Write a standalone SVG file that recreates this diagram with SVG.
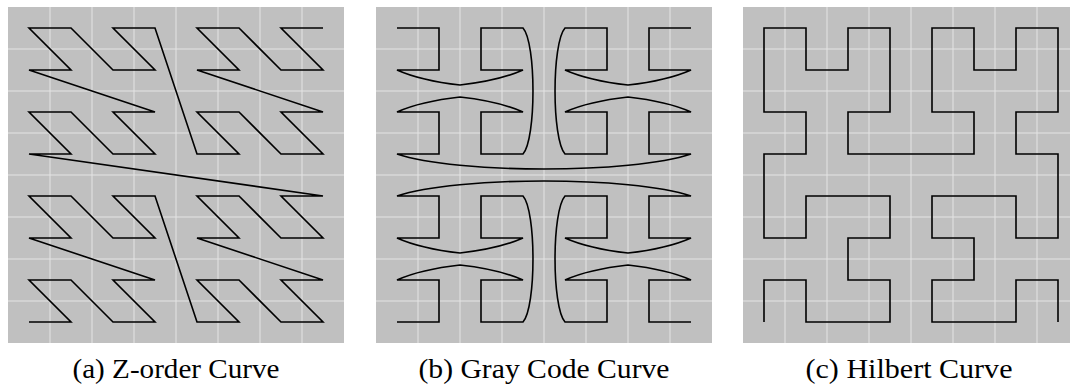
<svg xmlns="http://www.w3.org/2000/svg" width="1070" height="388" viewBox="0 0 1070 388">
<style>
.bg{fill:#c0c0c0}
.grid{stroke:#e4e4e4;stroke-width:1;fill:none}
.curve{stroke:#000;stroke-width:1.6;fill:none;stroke-linejoin:miter}
.cap{font-family:"Liberation Serif","Times New Roman",serif;font-size:27px;fill:#000;text-anchor:middle}
</style>
<g id="panel-a">
<rect class="bg" x="8" y="7" width="336" height="336"/>
<path class="grid" d="M50,7V343M92,7V343M134,7V343M176,7V343M218,7V343M260,7V343M302,7V343M8,49H344M8,91H344M8,133H344M8,175H344M8,217H344M8,259H344M8,301H344"/>
</g>
<g id="panel-b">
<rect class="bg" x="376" y="7" width="336" height="336"/>
<path class="grid" d="M418,7V343M460,7V343M502,7V343M544,7V343M586,7V343M628,7V343M670,7V343M376,49H712M376,91H712M376,133H712M376,175H712M376,217H712M376,259H712M376,301H712"/>
</g>
<g id="panel-c">
<rect class="bg" x="743" y="7" width="336" height="336"/>
<path class="grid" d="M785,7V343M827,7V343M869,7V343M911,7V343M953,7V343M995,7V343M1037,7V343M743,49H1079M743,91H1079M743,133H1079M743,175H1079M743,217H1079M743,259H1079M743,301H1079"/>
</g>
<g id="connectors">
<path id="z-order" class="curve" d="M29,322 L71,322 L29,280 L71,280 L113,322 L155,322 L113,280 L155,280 L29,238 L71,238 L29,196 L71,196 L113,238 L155,238 L113,196 L155,196 L197,322 L239,322 L197,280 L239,280 L281,322 L323,322 L281,280 L323,280 L197,238 L239,238 L197,196 L239,196 L281,238 L323,238 L281,196 L323,196 L29,154 L71,154 L29,112 L71,112 L113,154 L155,154 L113,112 L155,112 L29,70 L71,70 L29,28 L71,28 L113,70 L155,70 L113,28 L155,28 L197,154 L239,154 L197,112 L239,112 L281,154 L323,154 L281,112 L323,112 L197,70 L239,70 L197,28 L239,28 L281,70 L323,70 L281,28 L323,28"/>
<path id="gray-top" class="curve" d="M397,28 L439,28 L439,70 L397,70 C415,78 442,83 460,85 C478,83 505,78 523,70 L481,70 L481,28 L523,28 C536.3,43 536.3,139 523,154 L481,154 L481,112 L523,112 C505,104 478,99 460,97 C442,99 415,104 397,112 L439,112 L439,154 L397,154 C457,174 631,174 691,154 L649,154 L649,112 L691,112 C673,104 646,99 628,97 C610,99 583,104 565,112 L607,112 L607,154 L565,154 C551.7,139 551.7,43 565,28 L607,28 L607,70 L565,70 C583,78 610,83 628,85 C646,83 673,78 691,70 L649,70 L649,28 L691,28"/>
<path id="gray-bottom" class="curve" d="M397,322 L439,322 L439,280 L397,280 C415,272 442,267 460,265 C478,267 505,272 523,280 L481,280 L481,322 L523,322 C536.3,307 536.3,211 523,196 L481,196 L481,238 L523,238 C505,246 478,251 460,253 C442,251 415,246 397,238 L439,238 L439,196 L397,196 C457,176 631,176 691,196 L649,196 L649,238 L691,238 C673,246 646,251 628,253 C610,251 583,246 565,238 L607,238 L607,196 L565,196 C551.7,211 551.7,307 565,322 L607,322 L607,280 L565,280 C583,272 610,267 628,265 C646,267 673,272 691,280 L649,280 L649,322 L691,322"/>
<path id="hilbert" class="curve" d="M764,322 L764,280 L806,280 L806,322 L848,322 L890,322 L890,280 L848,280 L848,238 L890,238 L890,196 L848,196 L806,196 L806,238 L764,238 L764,196 L764,154 L806,154 L806,112 L764,112 L764,70 L764,28 L806,28 L806,70 L848,70 L848,28 L890,28 L890,70 L890,112 L848,112 L848,154 L890,154 L932,154 L974,154 L974,112 L932,112 L932,70 L932,28 L974,28 L974,70 L1016,70 L1016,28 L1058,28 L1058,70 L1058,112 L1016,112 L1016,154 L1058,154 L1058,196 L1058,238 L1016,238 L1016,196 L974,196 L932,196 L932,238 L974,238 L974,280 L932,280 L932,322 L974,322 L1016,322 L1016,280 L1058,280 L1058,322"/>
</g>
<g id="captions">
<text class="cap" x="176" y="378" textLength="207" lengthAdjust="spacingAndGlyphs">(a) Z-order Curve</text>
<text class="cap" x="544" y="378" textLength="251" lengthAdjust="spacingAndGlyphs">(b) Gray Code Curve</text>
<text class="cap" x="909" y="378" textLength="207" lengthAdjust="spacingAndGlyphs">(c) Hilbert Curve</text>
</g>
</svg>
